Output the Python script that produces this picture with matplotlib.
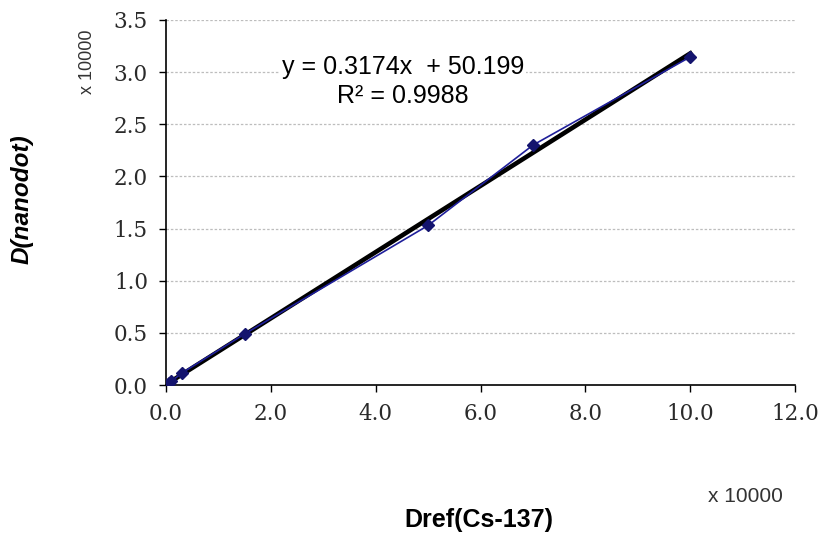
import matplotlib
matplotlib.use("Agg")
import numpy as np
import matplotlib.pyplot as plt

# dose values, in units of 10000
dref = [0.05, 0.1, 0.3, 1.5, 5.0, 7.0, 10.0]
d_nanodot = [0.02, 0.035, 0.115, 0.49, 1.53, 2.30, 3.145]

slope = 0.3174
intercept = 50.199 / 10000

x_ticks = [0, 2, 4, 6, 8, 10, 12]
y_ticks = [0, 0.5, 1.0, 1.5, 2.0, 2.5, 3.0, 3.5]

fig = plt.figure(figsize=(8.24, 5.37), dpi=100)
ax = fig.add_axes([0.2015, 0.283, 0.7635, 0.68])

# gridlines
for yv in y_ticks[1:]:
    ax.axhline(yv, color="#bdbdbd", lw=0.9, ls=(0, (2, 1.5)), zorder=0)

ax.plot(dref, d_nanodot, color="#1f1f9a", lw=1.2, marker="D", ms=6,
        mfc="#14146e", mec="#14146e", zorder=3)

xs = np.array([0, 10])
ax.plot(xs, slope * xs + intercept, color="black", lw=3.3, zorder=2)

ax.set_xlim(0, 12)
ax.set_ylim(0, 3.5)
ax.set_xticks(x_ticks)
ax.set_yticks(y_ticks)
ax.set_xticklabels([f"{v:.1f}" for v in x_ticks])
ax.set_yticklabels([f"{v:.1f}" for v in y_ticks])

for s in ["top", "right"]:
    ax.spines[s].set_visible(False)
for s in ["left", "bottom"]:
    ax.spines[s].set_color("black")
    ax.spines[s].set_linewidth(1.2)

ax.tick_params(axis="both", direction="out", length=5, width=1, colors="black",
               labelsize=15.5, pad=8)
for lbl in ax.get_xticklabels() + ax.get_yticklabels():
    lbl.set_family("DejaVu Serif")
    lbl.set_color("#2a2a2a")

ax.text(4.52, 2.91, "y = 0.3174x  + 50.199\nR² = 0.9988", ha="center", va="center",
        fontsize=18, family="Liberation Sans", linespacing=1.25, zorder=4,
        bbox=dict(facecolor="white", edgecolor="none", pad=1))

fig.text(0.106, 0.885, "x 10000", rotation=90, ha="center", va="center",
         fontsize=13, family="Liberation Sans", color="#333333")
fig.text(0.905, 0.075, "x 10000", ha="center", va="center",
         fontsize=15, family="Liberation Sans", color="#333333")

fig.text(0.581, 0.032, "Dref(Cs-137)", ha="center", va="center",
         fontsize=18, fontweight="bold", family="Liberation Sans")
fig.text(0.027, 0.63, "D(nanodot)", rotation=90, ha="center", va="center",
         fontsize=17.5, fontweight="bold", fontstyle="italic", family="Liberation Sans")

fig.savefig("out.png", dpi=100)
